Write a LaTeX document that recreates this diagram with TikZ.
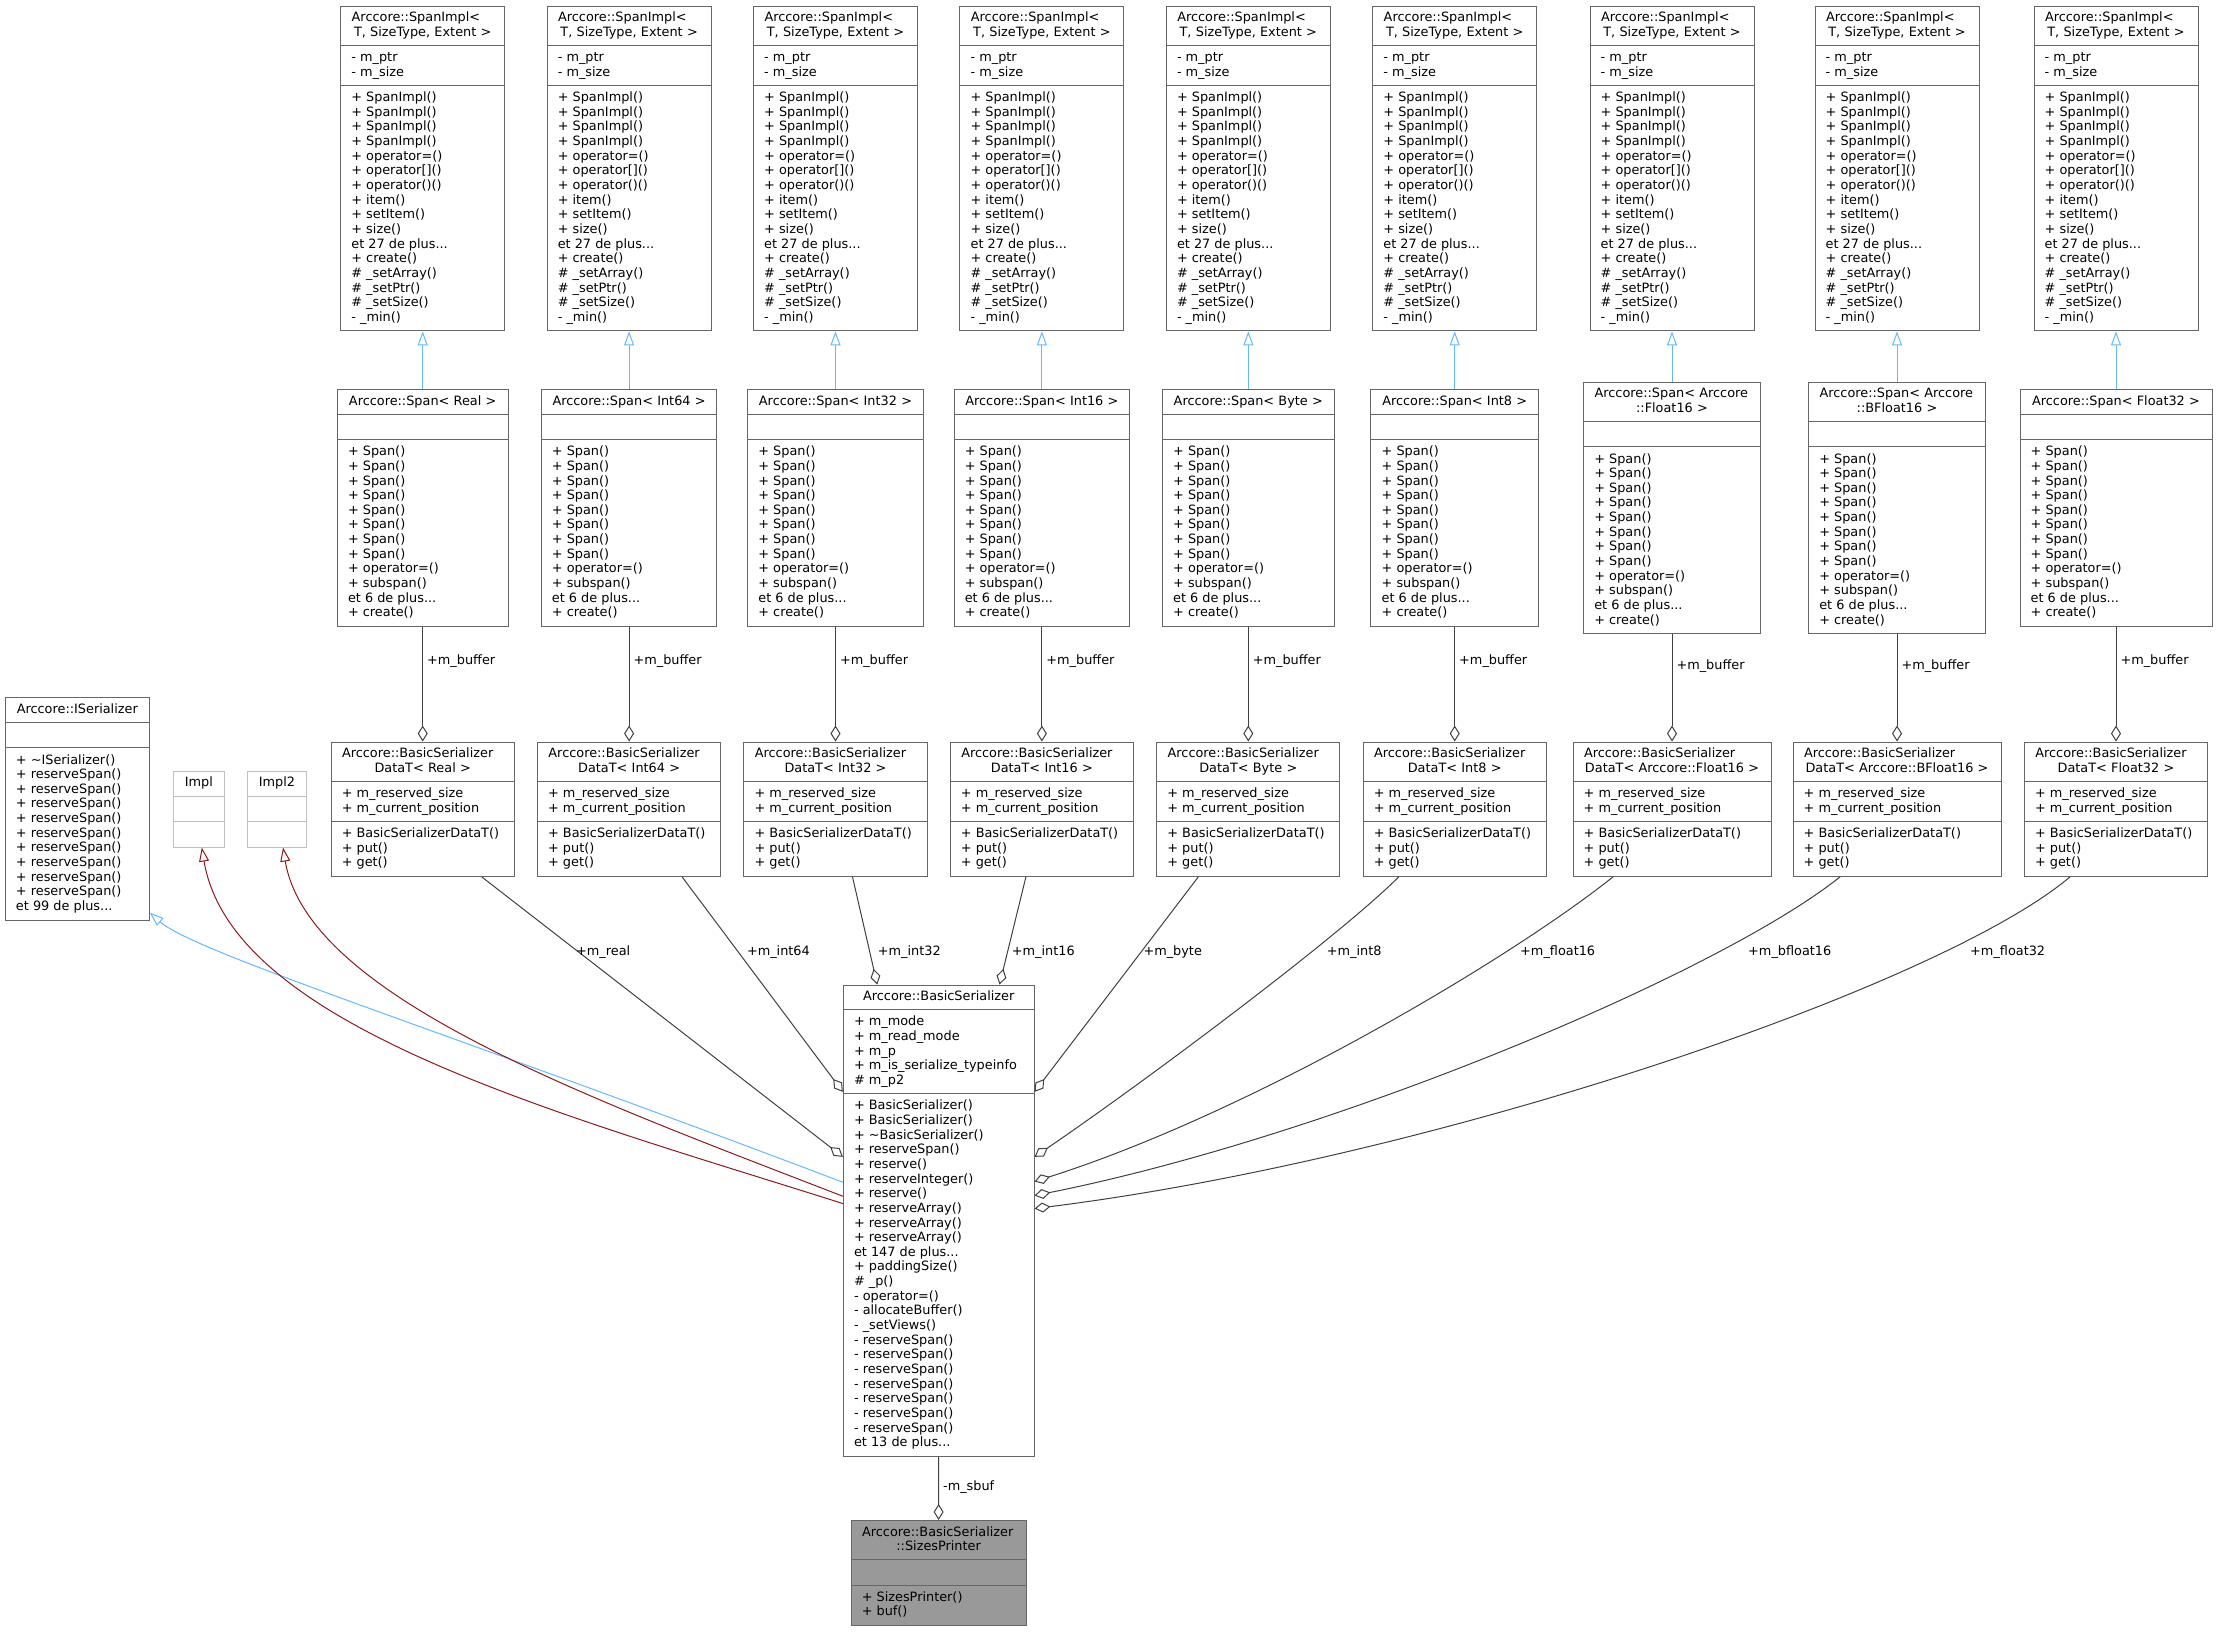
\documentclass[tikz,border=0pt]{standalone}
\usepackage{fontspec}
\setmainfont{DejaVu Sans}
\usepackage{tikz}
\usetikzlibrary{arrows.meta,calc,scopes}
\setlength{\parindent}{0pt}

\definecolor{steelblue}{HTML}{63B8FF}
\definecolor{firebrick}{HTML}{8B1A1A}
\definecolor{grey25}{HTML}{404040}
\definecolor{grey40}{HTML}{666666}
\definecolor{grey60}{HTML}{999999}
\definecolor{grey75}{HTML}{BFBFBF}

\newcommand{\clsfont}{\fontsize{12.85}{14.65}\selectfont}
\newcommand{\hdl}[1]{{\raggedright\hspace*{3pt}\mbox{#1}\par}}

\tikzset{
  classbox/.style={draw=grey40, fill=white, line width=1pt, inner sep=0pt, rectangle},
  classsep/.style={draw=grey40, line width=1pt},
  classtext/.style={font=\clsfont, align=left, inner sep=0pt},
  classhead/.style={font=\clsfont, align=center, inner sep=0pt},
  lbl/.style={font=\clsfont, inner sep=0pt},
  usage/.style={draw=grey25, line width=1pt, -{Diamond[open, length=16pt, width=10pt]}},
  pubinh/.style={draw=steelblue, line width=1pt, -{Triangle[open, length=14pt, width=10pt]}},
  privinh/.style={draw=firebrick, line width=1pt, -{Triangle[open, length=14pt, width=10pt]}}
}

\newcommand{\umlclass}[9]{%
  \pgfmathsetmacro\secA{14.65*#4+10.6}%
  \pgfmathsetmacro\secB{14.65*#5+10.6}%
  \pgfmathsetmacro\secC{14.65*#6+10.6}%
  \pgfmathsetmacro\secAB{\secA+\secB}%
  \pgfmathsetmacro\secT{\secA+\secB+\secC}%
  \pgfmathsetmacro\txw{#3-16}%
  \node[classbox, minimum width=#3pt, minimum height=\secT pt] (#1) at #2 {};
  \draw[classsep] ($(#1.north west)+(0,\secA)$) -- ($(#1.north east)+(0,\secA)$);
  \draw[classsep] ($(#1.north west)+(0,\secAB)$) -- ($(#1.north east)+(0,\secAB)$);
  \node[classhead, text width=\txw pt, anchor=north] (#1-h) at ($(#1.north)+(0,5.7)$) {\strut #7};
  \node[classtext, anchor=north west] (#1-a) at ($(#1.north west)+(11,\secA+5.7)$) {\strut #8};
  \node[classtext, anchor=north west] (#1-m) at ($(#1.north west)+(11,\secAB+5.7)$) {\strut #9};
}

\newcommand{\implmeth}{+ SpanImpl()\\+ SpanImpl()\\+ SpanImpl()\\+ SpanImpl()\\+ operator=()\\+ operator[]()\\+ operator()()\\+ item()\\+ setItem()\\+ size()\\et 27 de plus...\\+ create()\\\# \_setArray()\\\# \_setPtr()\\\# \_setSize()\\- \_min()}
\newcommand{\spanmeth}{+ Span()\\+ Span()\\+ Span()\\+ Span()\\+ Span()\\+ Span()\\+ Span()\\+ Span()\\+ operator=()\\+ subspan()\\et 6 de plus...\\+ create()}
\newcommand{\datameth}{+ BasicSerializerDataT()\\+ put()\\+ get()}
\newcommand{\isermeth}{+ \textasciitilde ISerializer()\\+ reserveSpan()\\+ reserveSpan()\\+ reserveSpan()\\+ reserveSpan()\\+ reserveSpan()\\+ reserveSpan()\\+ reserveSpan()\\+ reserveSpan()\\+ reserveSpan()\\et 99 de plus...}
\newcommand{\bserattr}{+ m\_mode\\+ m\_read\_mode\\+ m\_p\\+ m\_is\_serialize\_typeinfo\\\# m\_p2}
\newcommand{\bsermeth}{+ BasicSerializer()\\+ BasicSerializer()\\+ \textasciitilde BasicSerializer()\\+ reserveSpan()\\+ reserve()\\+ reserveInteger()\\+ reserve()\\+ reserveArray()\\+ reserveArray()\\+ reserveArray()\\et 147 de plus...\\+ paddingSize()\\\# \_p()\\- operator=()\\- allocateBuffer()\\- \_setViews()\\- reserveSpan()\\- reserveSpan()\\- reserveSpan()\\- reserveSpan()\\- reserveSpan()\\- reserveSpan()\\- reserveSpan()\\et 13 de plus...}

\begin{document}
\begin{tikzpicture}[x=1pt, y=-1pt]
  \useasboundingbox (0,0) rectangle (2217,1632);

  \foreach \i/\cx/\swid/\snum/\shead/\dwid/\dhead in {
    1/422.7/170.7/1/{Arccore::Span< Real >}/183.3/{DataT< Real >},
    2/629.1/175.7/1/{Arccore::Span< Int64 >}/183.3/{DataT< Int64 >},
    3/835.5/175.7/1/{Arccore::Span< Int32 >}/183.3/{DataT< Int32 >},
    4/1041.9/175.7/1/{Arccore::Span< Int16 >}/183.3/{DataT< Int16 >},
    5/1248.3/171.7/1/{Arccore::Span< Byte >}/183.3/{DataT< Byte >},
    6/1454.7/167.5/1/{Arccore::Span< Int8 >}/183.3/{DataT< Int8 >},
    7/1672/176.8/2/{\hdl{Arccore::Span< Arccore}::Float16 >}/198/{DataT< Arccore::Float16 >},
    8/1897/176.8/2/{\hdl{Arccore::Span< Arccore}::BFloat16 >}/208/{DataT< Arccore::BFloat16 >},
    9/2116/192/1/{Arccore::Span< Float32 >}/183.3/{DataT< Float32 >}}
  {
    \umlclass{simpl\i}{(\cx,168.5)}{164}{2}{2}{16}{\hdl{Arccore::SpanImpl<} T, SizeType, Extent >}{- m\_ptr\\- m\_size}{\implmeth}
    \umlclass{span\i}{(\cx,508)}{\swid}{\snum}{1}{12}{\shead}{}{\spanmeth}
    \umlclass{data\i}{(\cx,809.2)}{\dwid}{2}{2}{3}{\hdl{Arccore::BasicSerializer}\dhead}{+ m\_reserved\_size\\+ m\_current\_position}{\datameth}
    \draw[pubinh] (span\i.north) -- (simpl\i.south);
    \draw[usage] (span\i.south) -- (data\i.north) node[lbl, pos=0.3, anchor=west, inner xsep=4pt] {+m\_buffer};
  }

  \umlclass{iser}{(77.3,809)}{144}{1}{1}{11}{Arccore::ISerializer}{}{\isermeth}
  {[classbox/.append style={draw=grey75}, classsep/.append style={draw=grey75}]
    \umlclass{impl}{(198.8,809.2)}{51}{1}{1}{1}{Impl}{}{}
    \umlclass{impltwo}{(277,809.2)}{58.6}{1}{1}{1}{Impl2}{}{}
  }
  \umlclass{bser}{(938.7,1220.7)}{190.7}{1}{5}{24}{Arccore::BasicSerializer}{\bserattr}{\bsermeth}
  {[classbox/.append style={fill=grey60}]
    \umlclass{sizes}{(938.6,1573)}{175}{2}{1}{2}{\hdl{Arccore::BasicSerializer}::SizesPrinter}{}{+ SizesPrinter()\\+ buf()}
  }

  \draw[usage] ($(data1.south)+(59,0)$) -- ($(bser.north west)+(0,172.3)$);
  \draw[usage] ($(data2.south)+(53,0)$) -- ($(bser.north west)+(0,107.3)$);
  \draw[usage] ($(data3.south)+(17,0)$) -- ($(bser.north west)+(34.4,0)$);
  \draw[usage] ($(data4.south)+(-16,0)$) -- ($(bser.north west)+(156.7,0)$);
  \draw[usage] ($(data5.south)+(-50,0)$) -- ($(bser.north east)+(0,107.3)$);
  \draw[usage] ($(data6.south)+(-56,0)$) .. controls +(-60,60) and +(110,-75) .. ($(bser.north east)+(0,172.3)$);
  \draw[usage] ($(data7.south)+(-59,0)$) .. controls +(-100,80) and +(220,-70) .. ($(bser.north east)+(0,197)$);
  \draw[usage] ($(data8.south)+(-57,0)$) .. controls +(-120,96) and +(300,-60) .. ($(bser.north east)+(0,211)$);
  \draw[usage] ($(data9.south)+(-46,0)$) .. controls +(-130,110) and +(400,-50) .. ($(bser.north east)+(0,224)$);

  \node[lbl, anchor=west] (lreal) at (576,951.7) {+m\_real};
  \node[lbl, anchor=west] (lint64) at (746.8,951.7) {+m\_int64};
  \node[lbl, anchor=west] (lint32) at (877.7,951.7) {+m\_int32};
  \node[lbl, anchor=west] (lint16) at (1011.7,951.7) {+m\_int16};
  \node[lbl, anchor=west] (lbyte) at (1143.3,951.7) {+m\_byte};
  \node[lbl, anchor=west] (lint8) at (1326.7,951.7) {+m\_int8};
  \node[lbl, anchor=west] (lfloat16) at (1520,951.7) {+m\_float16};
  \node[lbl, anchor=west] (lbfloat16) at (1748,951.7) {+m\_bfloat16};
  \node[lbl, anchor=west] (lfloat32) at (1970,951.7) {+m\_float32};

  \draw[pubinh] ($(bser.north west)+(0,197.7)$) .. controls +(-400,-152) and +(45,40) .. ($(iser.south east)+(0,-8)$);
  \draw[privinh] ($(bser.north west)+(0,219)$) .. controls +(-280,-89) and +(30,180) .. ($(impl.south)+(3,0)$);
  \draw[privinh] ($(bser.north west)+(0,211.7)$) .. controls +(-250,-97) and +(25,150) .. ($(impltwo.south)+(6,0)$);

  \draw[usage] (bser.south) -- (sizes.north) node[lbl, pos=0.48, anchor=west, inner xsep=4pt] {-m\_sbuf};
\end{tikzpicture}
\end{document}
